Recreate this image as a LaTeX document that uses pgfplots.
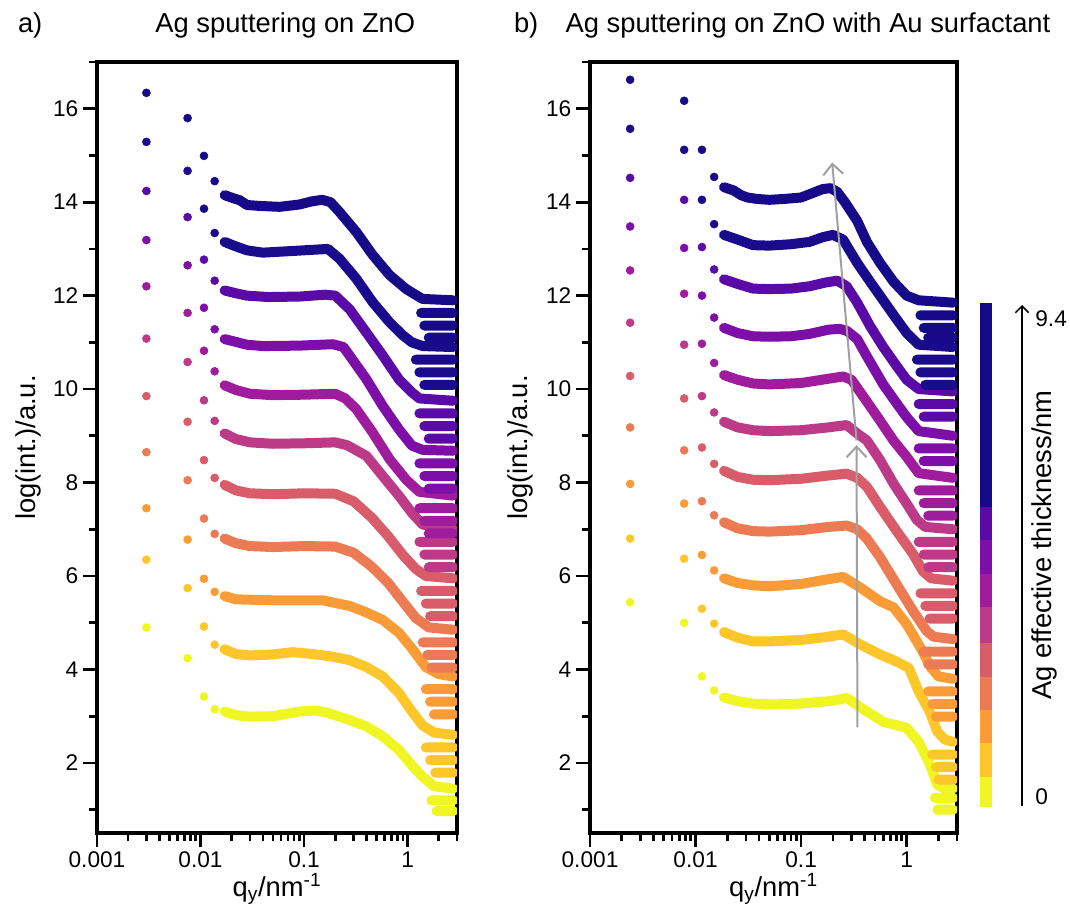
\documentclass[border=0pt]{standalone}
\usepackage{pgfplots}
\pgfplotsset{compat=1.18}
\usepackage{fontspec}
\setmainfont{Liberation Sans}
\usetikzlibrary{arrows.meta}

% plasma-like palette, bottom (0 nm) to top (9.4 nm)
\definecolor{c0}{HTML}{EFF623}
\definecolor{c1}{HTML}{FDC62A}
\definecolor{c2}{HTML}{F99C38}
\definecolor{c3}{HTML}{EC7A53}
\definecolor{c4}{HTML}{D85C6A}
\definecolor{c5}{HTML}{BC3A88}
\definecolor{c6}{HTML}{9F1C9C}
\definecolor{c7}{HTML}{7E0EA8}
\definecolor{c8}{HTML}{5A0AA6}
\definecolor{c9}{HTML}{1A0A8C}
\definecolor{c10}{HTML}{160A88}
\definecolor{arrowgray}{HTML}{A0A0A0}

\tikzset{
  band/.style={line width=7.5pt, line cap=round, line join=round},
}
\newcommand{\tickfont}{\fontsize{17pt}{20pt}\selectfont}
\newcommand{\labfont}{\fontsize{20.5pt}{24pt}\selectfont}

\begin{document}
\begin{tikzpicture}
\path[use as bounding box] (0,0) rectangle (802.5pt,690.75pt);

% ---------------- a) Ag on ZnO ----------------
\begin{axis}[at={(72.75pt,66pt)}, anchor=south west, width=270pt,
    scale only axis, height=578.25pt,
    xmode=log, xmin=0.001, xmax=3, ymin=0.5, ymax=17,
    xtick={0.001,0.01,0.1,1}, xticklabels={0.001,0.01,0.1,1},
    minor xtick={0.002,0.003,0.004,0.005,0.006,0.007,0.008,0.009,
      0.02,0.03,0.04,0.05,0.06,0.07,0.08,0.09,
      0.2,0.3,0.4,0.5,0.6,0.7,0.8,0.9,2,3},
    ytick={2,4,...,16}, minor ytick={1,3,...,17},
    tick pos=left, tick align=outside,
    major tick length=10.5pt, minor tick length=6pt,
    major tick style={black, line width=2pt},
    minor tick style={black, line width=2pt},
    separate axis lines,
    axis line style={line width=2.6pt, line cap=rect},
    tick label style={font=\tickfont},
    label style={font=\labfont},
    xlabel={q\textsubscript{y}/nm\textsuperscript{-1}},
    ylabel={log(int.)/a.u.},
    xlabel style={at={(axis description cs:0.5,-0.072)}, anchor=center},
    ylabel style={at={(axis description cs:-0.19,0.5)}, anchor=center},
    unbounded coords=jump,
    /pgf/number format/assume math mode=true]
% c0
\addplot[only marks, mark=*, mark size=3pt, c0] coordinates {(0.003,4.90)(0.0075,4.24)(0.0108,3.42)(0.0137,3.15)};
\addplot[band, no marks, c0] coordinates {(0.0171,3.1)(0.022,3.02)(0.03,2.99)(0.05,3.0)(0.09,3.1)(0.13,3.12)(0.17,3.07)(0.275,2.92)(0.4,2.78)(0.575,2.57)(0.83,2.27)(1.1,1.95)(1.4,1.7)(1.8,1.5)(2.75,1.45)
 (2.75,nan)(1.7,1.2)(2.75,1.2)(2.75,nan)(1.9,0.97)(2.75,0.97)};
% c1
\addplot[only marks, mark=*, mark size=3pt, c1] coordinates {(0.003,6.35)(0.0075,5.74)(0.0108,4.92)(0.0137,4.53)};
\addplot[band, no marks, c1] coordinates {(0.0171,4.43)(0.022,4.33)(0.03,4.3)(0.05,4.32)(0.077,4.37)(0.12,4.33)(0.18,4.28)(0.275,4.2)(0.4,4.05)(0.575,3.85)(0.83,3.49)(1.1,3.1)(1.4,2.8)(1.8,2.65)(2.75,2.6)
 (2.75,nan)(1.5,2.33)(2.75,2.33)(2.75,nan)(1.65,2.06)(2.75,2.06)(2.75,nan)(1.85,1.79)(2.75,1.79)};
% c2
\addplot[only marks, mark=*, mark size=3pt, c2] coordinates {(0.003,7.45)(0.0075,6.78)(0.0108,5.94)(0.0137,5.66)};
\addplot[band, no marks, c2] coordinates {(0.0171,5.57)(0.022,5.5)(0.05,5.48)(0.15,5.48)(0.275,5.36)(0.4,5.22)(0.575,5.06)(0.83,4.78)(1.1,4.45)(1.5,4.05)(2.0,3.9)(2.75,3.85)
 (2.75,nan)(1.5,3.58)(2.75,3.58)(2.75,nan)(1.65,3.31)(2.75,3.31)(2.75,nan)(1.8,3.04)(2.75,3.04)};
% c3
\addplot[only marks, mark=*, mark size=3pt, c3] coordinates {(0.003,8.65)(0.0075,8.05)(0.0108,7.23)(0.0137,6.9)};
\addplot[band, no marks, c3] coordinates {(0.0171,6.8)(0.022,6.7)(0.03,6.64)(0.05,6.62)(0.1,6.64)(0.2,6.63)(0.3,6.5)(0.45,6.2)(0.65,5.85)(0.9,5.45)(1.2,5.1)(1.6,4.9)(2.75,4.85)
 (2.75,nan)(1.4,4.58)(2.75,4.58)(2.75,nan)(1.55,4.31)(2.75,4.31)(2.75,nan)(1.7,4.04)(2.75,4.04)};
% c4
\addplot[only marks, mark=*, mark size=3pt, c4] coordinates {(0.003,9.85)(0.0075,9.3)(0.0108,8.48)(0.0137,8.1)};
\addplot[band, no marks, c4] coordinates {(0.0171,7.95)(0.022,7.83)(0.03,7.77)(0.05,7.75)(0.1,7.77)(0.2,7.76)(0.3,7.6)(0.45,7.25)(0.65,6.85)(0.9,6.45)(1.2,6.15)(1.5,6.0)(2.75,5.95)
 (2.75,nan)(1.35,5.68)(2.75,5.68)(2.75,nan)(1.5,5.41)(2.75,5.41)(2.75,nan)(1.65,5.14)(2.75,5.14)};
% c5
\addplot[only marks, mark=*, mark size=3pt, c5] coordinates {(0.003,11.08)(0.0075,10.58)(0.0108,9.76)(0.0137,9.32)};
\addplot[band, no marks, c5] coordinates {(0.0171,9.05)(0.022,8.93)(0.03,8.86)(0.05,8.83)(0.1,8.84)(0.2,8.86)(0.26,8.8)(0.4,8.57)(0.575,8.14)(0.83,7.71)(1.1,7.35)(1.4,7.1)(2.75,7.0)
 (2.75,nan)(1.3,6.73)(2.75,6.73)(2.75,nan)(1.45,6.46)(2.75,6.46)(2.75,nan)(1.6,6.19)(2.75,6.19)};
% c6
\addplot[only marks, mark=*, mark size=3pt, c6] coordinates {(0.003,12.2)(0.0075,11.63)(0.0108,10.82)(0.0137,10.38)};
\addplot[band, no marks, c6] coordinates {(0.0171,10.08)(0.022,9.98)(0.03,9.9)(0.05,9.87)(0.1,9.88)(0.2,9.9)(0.25,9.8)(0.32,9.57)(0.46,9.07)(0.67,8.5)(0.97,8.06)(1.3,7.8)(2.75,7.72)
 (2.75,nan)(1.3,7.45)(2.75,7.45)(2.75,nan)(1.45,7.18)(2.75,7.18)(2.75,nan)(1.6,6.91)(2.75,6.91)};
% c7
\addplot[only marks, mark=*, mark size=3pt, c7] coordinates {(0.003,13.19)(0.0075,12.65)(0.0108,11.74)(0.0137,11.28)};
\addplot[band, no marks, c7] coordinates {(0.0171,11.07)(0.028,10.95)(0.04,10.92)(0.09,10.93)(0.19,10.96)(0.24,10.9)(0.275,10.72)(0.4,10.21)(0.575,9.64)(0.83,9.13)(1.1,8.79)(1.4,8.7)(2.75,8.68)
 (2.75,nan)(1.3,8.41)(2.75,8.41)(2.75,nan)(1.45,8.14)(2.75,8.14)(2.75,nan)(1.6,7.87)(2.75,7.87)};
% c8
\addplot[only marks, mark=*, mark size=3pt, c8] coordinates {(0.003,14.24)(0.0075,13.68)(0.0108,12.77)(0.0137,12.32)};
\addplot[band, no marks, c8] coordinates {(0.0171,12.11)(0.022,12.05)(0.028,12.0)(0.045,11.97)(0.09,11.98)(0.16,12.02)(0.2,12.0)(0.275,11.71)(0.4,11.21)(0.575,10.72)(0.83,10.2)(1.1,9.93)(1.3,9.8)(2.75,9.75)
 (2.75,nan)(1.3,9.48)(2.75,9.48)(2.75,nan)(1.45,9.21)(2.75,9.21)(2.75,nan)(1.6,8.94)(2.75,8.94)};
% c9
\addplot[only marks, mark=*, mark size=3pt, c9] coordinates {(0.003,15.29)(0.0075,14.67)(0.0108,13.86)(0.0137,13.34)};
\addplot[band, no marks, c9] coordinates {(0.0171,13.15)(0.0204,13.08)(0.028,12.97)(0.04,12.92)(0.07,12.95)(0.12,12.98)(0.17,13.0)(0.22,12.79)(0.32,12.36)(0.46,11.86)(0.67,11.43)(0.9,11.15)(1.1,11.0)(1.4,10.92)(2.75,10.9)
 (2.75,nan)(1.2,10.63)(2.75,10.63)(2.75,nan)(1.3,10.36)(2.75,10.36)(2.75,nan)(1.45,10.09)(2.75,10.09)};
% c10
\addplot[only marks, mark=*, mark size=3pt, c10] coordinates {(0.003,16.34)(0.0075,15.8)(0.0108,14.99)(0.0137,14.45)};
\addplot[band, no marks, c10] coordinates {(0.0171,14.15)(0.0204,14.09)(0.024,14.04)(0.028,13.94)(0.037,13.92)(0.058,13.9)(0.09,13.95)(0.12,14.02)(0.15,14.05)(0.18,14.0)(0.22,13.79)(0.32,13.36)(0.46,12.87)(0.67,12.44)(0.97,12.14)(1.39,11.93)(2.75,11.9)
 (2.75,nan)(1.35,11.63)(2.75,11.63)(2.75,nan)(1.45,11.36)(2.75,11.36)(2.75,nan)(1.6,11.1)(2.75,11.1)};
\end{axis}

% ---------------- b) Ag on ZnO with Au surfactant ----------------
\begin{axis}[at={(442.5pt,66pt)}, anchor=south west, width=275.25pt,
    scale only axis, height=578.25pt,
    xmode=log, xmin=0.001, xmax=3, ymin=0.5, ymax=17,
    xtick={0.001,0.01,0.1,1}, xticklabels={0.001,0.01,0.1,1},
    minor xtick={0.002,0.003,0.004,0.005,0.006,0.007,0.008,0.009,
      0.02,0.03,0.04,0.05,0.06,0.07,0.08,0.09,
      0.2,0.3,0.4,0.5,0.6,0.7,0.8,0.9,2,3},
    ytick={2,4,...,16}, minor ytick={1,3,...,17},
    tick pos=left, tick align=outside,
    major tick length=10.5pt, minor tick length=6pt,
    major tick style={black, line width=2pt},
    minor tick style={black, line width=2pt},
    separate axis lines,
    axis line style={line width=2.6pt, line cap=rect},
    tick label style={font=\tickfont},
    label style={font=\labfont},
    xlabel={q\textsubscript{y}/nm\textsuperscript{-1}},
    ylabel={log(int.)/a.u.},
    xlabel style={at={(axis description cs:0.5,-0.072)}, anchor=center},
    ylabel style={at={(axis description cs:-0.19,0.5)}, anchor=center},
    unbounded coords=jump,
    /pgf/number format/assume math mode=true]
% c0
\addplot[only marks, mark=*, mark size=3pt, c0] coordinates {(0.0024,5.44)(0.0078,5.0)(0.0115,3.85)(0.015,3.55)};
\addplot[band, no marks, c0] coordinates {(0.0186,3.4)(0.025,3.32)(0.035,3.27)(0.05,3.25)(0.1,3.27)(0.2,3.33)(0.27,3.39)(0.36,3.2)(0.42,3.1)(0.6,2.88)(1.0,2.75)(1.3,2.45)(1.67,1.96)(1.95,1.53)(2.3,1.45)(2.75,1.45)
 (2.75,nan)(1.85,1.25)(2.75,1.25)(2.75,nan)(1.95,1.0)(2.75,1.0)};
% c1
\addplot[only marks, mark=*, mark size=3pt, c1] coordinates {(0.0024,6.8)(0.0078,6.37)(0.0115,5.3)(0.015,4.98)};
\addplot[band, no marks, c1] coordinates {(0.0186,4.8)(0.025,4.68)(0.035,4.6)(0.05,4.6)(0.1,4.63)(0.18,4.7)(0.25,4.75)(0.36,4.54)(0.56,4.32)(0.8,4.17)(1.05,4.03)(1.3,3.53)(1.65,3.1)(1.95,2.67)(2.3,2.5)(2.75,2.45)
 (2.75,nan)(1.75,2.18)(2.75,2.18)(2.75,nan)(1.9,1.91)(2.75,1.91)(2.75,nan)(2.0,1.64)(2.75,1.64)};
% c2
\addplot[only marks, mark=*, mark size=3pt, c2] coordinates {(0.0024,7.97)(0.0078,7.55)(0.0115,6.45)(0.015,6.12)};
\addplot[band, no marks, c2] coordinates {(0.0186,5.95)(0.025,5.85)(0.035,5.8)(0.05,5.78)(0.1,5.83)(0.18,5.93)(0.25,5.98)(0.36,5.76)(0.56,5.46)(0.75,5.33)(1.0,4.97)(1.35,4.47)(1.7,4.04)(2.0,3.85)(2.75,3.8)
 (2.75,nan)(1.6,3.53)(2.75,3.53)(2.75,nan)(1.75,3.26)(2.75,3.26)(2.75,nan)(1.9,2.99)(2.75,2.99)};
% c3
\addplot[only marks, mark=*, mark size=3pt, c3] coordinates {(0.0024,9.18)(0.0078,8.69)(0.0115,7.6)(0.015,7.3)};
\addplot[band, no marks, c3] coordinates {(0.0186,7.15)(0.025,7.02)(0.035,6.96)(0.05,6.95)(0.1,6.98)(0.18,7.05)(0.27,7.08)(0.34,7.0)(0.42,6.8)(0.56,6.4)(0.8,5.83)(1.15,5.25)(1.55,4.82)(1.8,4.7)(2.75,4.65)
 (2.75,nan)(1.45,4.38)(2.75,4.38)(2.75,nan)(1.6,4.11)(2.75,4.11)};
% c4
\addplot[only marks, mark=*, mark size=3pt, c4] coordinates {(0.0024,10.28)(0.0078,9.8)(0.0115,8.75)(0.015,8.4)};
\addplot[band, no marks, c4] coordinates {(0.0186,8.25)(0.025,8.12)(0.035,8.06)(0.05,8.05)(0.1,8.08)(0.18,8.15)(0.27,8.19)(0.34,8.1)(0.42,7.91)(0.56,7.48)(0.8,6.97)(1.15,6.47)(1.43,6.1)(1.7,5.95)(2.75,5.9)
 (2.75,nan)(1.35,5.63)(2.75,5.63)(2.75,nan)(1.5,5.36)(2.75,5.36)(2.75,nan)(1.65,5.09)(2.75,5.09)};
% c5
\addplot[only marks, mark=*, mark size=3pt, c5] coordinates {(0.0024,11.42)(0.0078,10.95)(0.0115,9.85)(0.015,9.5)};
\addplot[band, no marks, c5] coordinates {(0.0186,9.3)(0.025,9.18)(0.035,9.12)(0.05,9.1)(0.1,9.12)(0.18,9.18)(0.27,9.23)(0.34,9.05)(0.42,8.9)(0.56,8.48)(0.75,7.98)(1.0,7.55)(1.25,7.2)(1.5,7.05)(2.75,7.0)
 (2.75,nan)(1.3,6.73)(2.75,6.73)(2.75,nan)(1.45,6.46)(2.75,6.46)(2.75,nan)(1.6,6.19)(2.75,6.19)};
% c6
\addplot[only marks, mark=*, mark size=3pt, c6] coordinates {(0.0024,12.54)(0.0078,12.04)(0.0115,10.97)(0.015,10.56)};
\addplot[band, no marks, c6] coordinates {(0.0186,10.3)(0.025,10.2)(0.035,10.12)(0.05,10.1)(0.1,10.13)(0.18,10.22)(0.25,10.27)(0.3,10.2)(0.4,9.8)(0.55,9.35)(0.75,8.9)(1.0,8.55)(1.3,8.2)(2.75,8.1)
 (2.75,nan)(1.3,7.83)(2.75,7.83)(2.75,nan)(1.45,7.56)(2.75,7.56)(2.75,nan)(1.6,7.29)(2.75,7.29)};
% c7
\addplot[only marks, mark=*, mark size=3pt, c7] coordinates {(0.0024,13.48)(0.0078,13.02)(0.0115,12.0)(0.015,11.53)};
\addplot[band, no marks, c7] coordinates {(0.0186,11.31)(0.025,11.2)(0.035,11.13)(0.05,11.12)(0.08,11.13)(0.12,11.18)(0.18,11.27)(0.23,11.29)(0.27,11.25)(0.34,11.07)(0.42,10.7)(0.6,10.1)(0.8,9.7)(1.0,9.4)(1.3,9.1)(2.75,9.0)
 (2.75,nan)(1.3,8.73)(2.75,8.73)(2.75,nan)(1.45,8.46)(2.75,8.46)};
% c8
\addplot[only marks, mark=*, mark size=3pt, c8] coordinates {(0.0024,14.52)(0.0078,14.05)(0.0115,13.04)(0.015,12.56)};
\addplot[band, no marks, c8] coordinates {(0.0186,12.35)(0.025,12.25)(0.035,12.15)(0.05,12.14)(0.08,12.15)(0.12,12.2)(0.17,12.28)(0.22,12.32)(0.27,12.2)(0.34,11.85)(0.45,11.35)(0.6,10.9)(0.8,10.5)(1.0,10.2)(1.3,10.0)(2.75,9.95)
 (2.75,nan)(1.3,9.68)(2.75,9.68)(2.75,nan)(1.45,9.41)(2.75,9.41)};
% c9
\addplot[only marks, mark=*, mark size=3pt, c9] coordinates {(0.0024,15.57)(0.0078,15.12)(0.0115,14.05)(0.015,13.53)};
\addplot[band, no marks, c9] coordinates {(0.0186,13.3)(0.025,13.2)(0.035,13.08)(0.05,13.07)(0.08,13.1)(0.12,13.15)(0.16,13.25)(0.2,13.3)(0.25,13.2)(0.34,12.7)(0.45,12.3)(0.6,11.9)(0.8,11.5)(1.0,11.2)(1.3,10.95)(2.75,10.9)
 (2.75,nan)(1.25,10.63)(2.75,10.63)(2.75,nan)(1.35,10.36)(2.75,10.36)(2.75,nan)(1.5,10.09)(2.75,10.09)};
% c10
\addplot[only marks, mark=*, mark size=3pt, c10] coordinates {(0.0024,16.62)(0.0078,16.17)(0.0115,15.12)(0.015,14.54)};
\addplot[band, no marks, c10] coordinates {(0.0186,14.32)(0.023,14.25)(0.027,14.15)(0.031,14.1)(0.038,14.07)(0.05,14.05)(0.07,14.07)(0.1,14.1)(0.13,14.2)(0.16,14.28)(0.19,14.3)(0.22,14.22)(0.26,14.0)(0.34,13.6)(0.42,13.15)(0.56,12.7)(0.75,12.3)(1.0,12.0)(1.3,11.9)(2.75,11.85)
 (2.75,nan)(1.35,11.58)(2.75,11.58)(2.75,nan)(1.45,11.31)(2.75,11.31)(2.75,nan)(1.6,11.1)(2.75,11.1)};
% guide arrows
\draw[arrowgray, line width=1.5pt, -{Straight Barb[length=8pt,width=15pt]}] (axis cs:0.342,2.76) -- (axis cs:0.335,8.8);
\draw[arrowgray, line width=1.5pt, -{Straight Barb[length=8pt,width=15pt]}] (axis cs:0.335,8.9) -- (axis cs:0.197,14.85);
\end{axis}

% ---------------- colour bar ----------------
\begin{axis}[at={(735pt,85.5pt)}, anchor=south west, scale only axis,
  width=9pt, height=378pt, xmin=0, xmax=1, ymin=0, ymax=504, hide axis]
\addplot[fill=c0, draw=none] coordinates {(0,0)(1,0)(1,30)(0,30)} --cycle;
\addplot[fill=c1, draw=none] coordinates {(0,30)(1,30)(1,64)(0,64)} --cycle;
\addplot[fill=c2, draw=none] coordinates {(0,64)(1,64)(1,97)(0,97)} --cycle;
\addplot[fill=c3, draw=none] coordinates {(0,97)(1,97)(1,130)(0,130)} --cycle;
\addplot[fill=c4, draw=none] coordinates {(0,130)(1,130)(1,164)(0,164)} --cycle;
\addplot[fill=c5, draw=none] coordinates {(0,164)(1,164)(1,200)(0,200)} --cycle;
\addplot[fill=c6, draw=none] coordinates {(0,200)(1,200)(1,233)(0,233)} --cycle;
\addplot[fill=c7, draw=none] coordinates {(0,233)(1,233)(1,267)(0,267)} --cycle;
\addplot[fill=c8, draw=none] coordinates {(0,267)(1,267)(1,300)(0,300)} --cycle;
\addplot[fill=c10, draw=none] coordinates {(0,300)(1,300)(1,504)(0,504)} --cycle;
\end{axis}

\draw[line width=1.1pt, -{Straight Barb[length=5pt,width=10pt]}] (766.5pt,86.25pt) -- (766.5pt,462pt);
\node[anchor=west, font=\tickfont] at (773pt,452pt) {9.4};
\node[anchor=west, font=\tickfont] at (773pt,93pt) {0};
\node[rotate=90, font=\labfont] at (783pt,282pt) {Ag effective thickness/nm};

% ---------------- titles ----------------
\node[anchor=west, font=\labfont] at (10pt,672pt) {a)};
\node[font=\labfont] at (214pt,672pt) {Ag sputtering on ZnO};
\node[anchor=west, font=\labfont] at (382pt,672pt) {b)};
\node[font=\labfont] at (606pt,672pt) {Ag sputtering on ZnO with Au surfactant};
\end{tikzpicture}
\end{document}
